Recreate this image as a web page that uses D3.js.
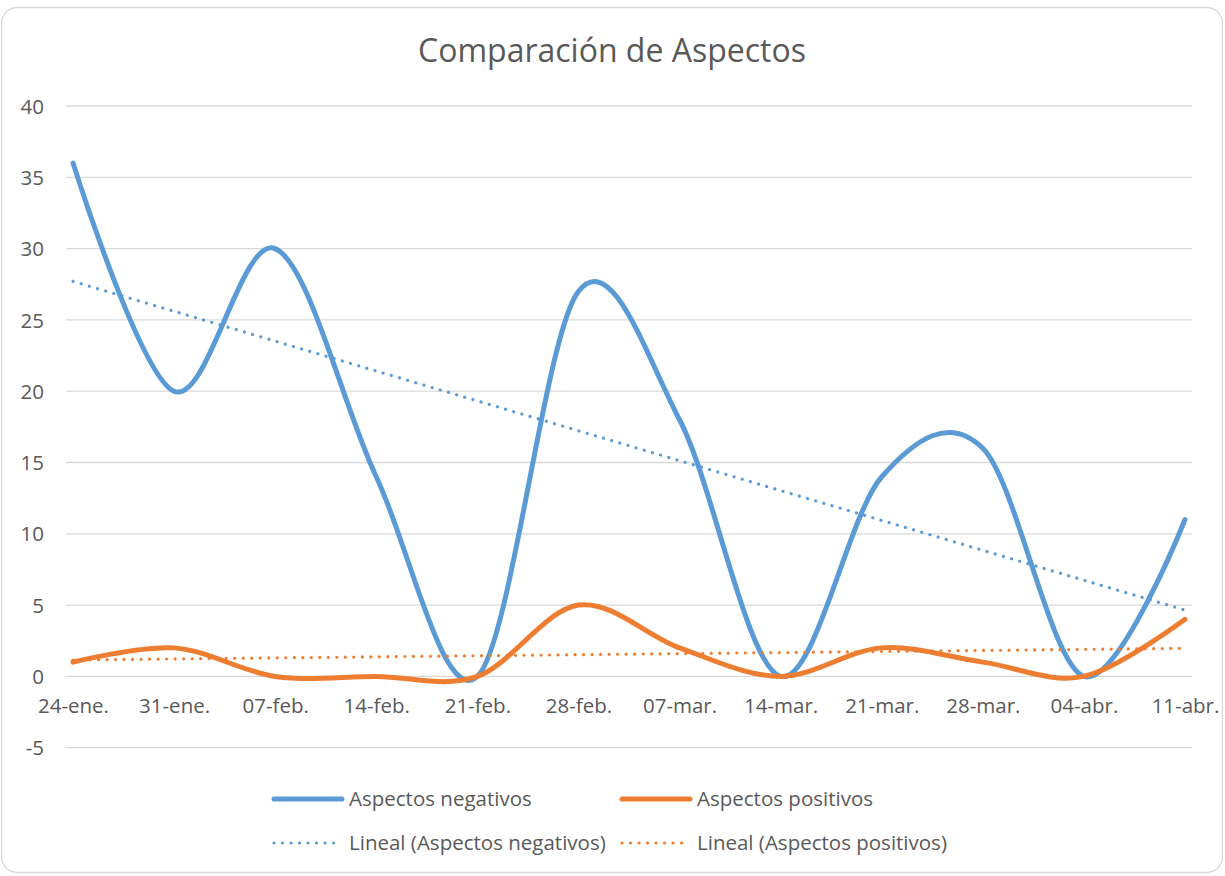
<!DOCTYPE html>
<html>
<head>
<meta charset="utf-8">
<script src="https://cdn.jsdelivr.net/npm/d3@7"></script>
<style>
  html, body { margin: 0; padding: 0; background: #ffffff; }
  svg { display: block; }
  text { font-family: "Open Sans", sans-serif; fill: #595959; }
</style>
</head>
<body>
<svg id="chart" width="1225" height="876"></svg>
<script>
// ---- data ----
const categories = ["24-ene.", "31-ene.", "07-feb.", "14-feb.", "21-feb.", "28-feb.",
                    "07-mar.", "14-mar.", "21-mar.", "28-mar.", "04-abr.", "11-abr."];
const negativos = [36, 20, 30, 14, 0, 27, 18, 0, 14, 16, 0, 11];
const positivos = [1, 2, 0, 0, 0, 5, 2, 0, 2, 1, 0, 4];
// linear trend lines (value at first and last category)
const trendNegativos = [27.7, 4.65];
const trendPositivos = [1.15, 1.97];
const yTicks = [-5, 0, 5, 10, 15, 20, 25, 30, 35, 40];
const title = "Comparación de Aspectos";
const seriesNames = ["Aspectos negativos", "Aspectos positivos",
                     "Lineal (Aspectos negativos)", "Lineal (Aspectos positivos)"];

// ---- drawing ----
const svg = d3.select("#chart");
const blue = "#5b9bd5", orange = "#ed7d31", grid = "#d9d9d9";

svg.append("rect")
  .attr("x", 1.5).attr("y", 7.5).attr("width", 1221).attr("height", 865)
  .attr("rx", 16).attr("ry", 16)
  .attr("fill", "#fff").attr("stroke", grid).attr("stroke-width", 1.3);

svg.append("text")
  .attr("x", 612).attr("y", 62)
  .attr("text-anchor", "middle")
  .style("font-size", "32px")
  .text(title);

const x = d3.scalePoint().domain(categories).range([73, 1185]);
const y = d3.scaleLinear().domain([-5, 40]).range([747.7, 106]);
const gridX0 = 66, gridX1 = 1192;

// gridlines
svg.append("g").selectAll("line").data(yTicks).join("line")
  .attr("x1", gridX0).attr("x2", gridX1)
  .attr("y1", d => y(d)).attr("y2", d => y(d))
  .attr("stroke", grid).attr("stroke-width", 1.3);

// y axis labels
const yAxis = d3.axisLeft(y).tickValues(yTicks).tickSize(0).tickPadding(0)
  .tickFormat(d => String(d));
const gy = svg.append("g").attr("transform", "translate(44,0)").call(yAxis);
gy.select(".domain").remove();
gy.selectAll("text").style("font-size", "20.5px").attr("fill", "#595959")
  .style("font-family", "'Open Sans', sans-serif").attr("dy", "0.35em");

// x axis labels
const xAxis = d3.axisBottom(x).tickSize(0).tickPadding(0);
const gx = svg.append("g").attr("transform", "translate(0,713)").call(xAxis);
gx.select(".domain").remove();
gx.selectAll("text").style("font-size", "20.5px").attr("fill", "#595959")
  .style("font-family", "'Open Sans', sans-serif").attr("dy", "0").attr("y", 0);

// trend lines
function trendLine(vals, color) {
  const pts = [[categories[0], vals[0]], [categories[categories.length - 1], vals[1]]];
  svg.append("path")
    .attr("d", d3.line().x(d => x(d[0])).y(d => y(d[1]))(pts))
    .attr("fill", "none").attr("stroke", color).attr("stroke-width", 3.2)
    .attr("stroke-linecap", "round").attr("stroke-dasharray", "0.01 8.5");
}

const smooth = d3.line()
  .x((d, i) => x(categories[i])).y(d => y(d))
  .curve(d3.curveCatmullRom.alpha(0));

function seriesLine(vals, color) {
  svg.append("path")
    .attr("d", smooth(vals))
    .attr("fill", "none").attr("stroke", color).attr("stroke-width", 5)
    .attr("stroke-linecap", "round").attr("stroke-linejoin", "round");
}

seriesLine(negativos, blue);
seriesLine(positivos, orange);
trendLine(trendNegativos, blue);
trendLine(trendPositivos, orange);

// legend
const legend = [
  { name: seriesNames[0], color: blue, dotted: false, lx: 272, ly: 799 },
  { name: seriesNames[1], color: orange, dotted: false, lx: 620, ly: 799 },
  { name: seriesNames[2], color: blue, dotted: true, lx: 272, ly: 843 },
  { name: seriesNames[3], color: orange, dotted: true, lx: 620, ly: 843 }
];
const lg = svg.append("g");
legend.forEach(l => {
  const ln = lg.append("line")
    .attr("x1", l.lx + 2).attr("x2", l.lx + 70)
    .attr("y1", l.ly).attr("y2", l.ly)
    .attr("stroke", l.color).attr("stroke-linecap", "round");
  if (l.dotted) ln.attr("stroke-width", 3.2).attr("stroke-dasharray", "0.01 8.5");
  else ln.attr("stroke-width", 5);
  lg.append("text")
    .attr("x", l.lx + 77).attr("y", l.ly).attr("dy", "0.35em")
    .style("font-size", "20.5px")
    .text(l.name);
});
</script>
</body>
</html>
